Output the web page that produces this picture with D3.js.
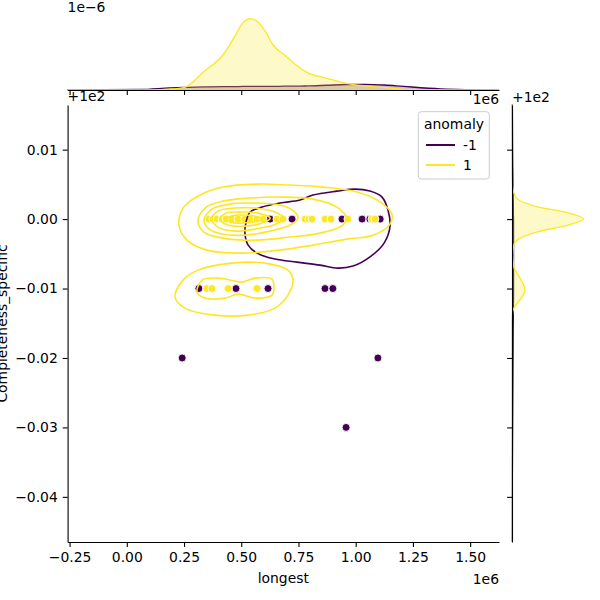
<!DOCTYPE html>
<html><head><meta charset="utf-8">
<script src="https://cdn.jsdelivr.net/npm/d3@7"></script>
<style>
body{margin:0;background:#fff;}
svg{display:block;font-family:"DejaVu Sans",sans-serif;}
</style></head>
<body><svg id="c" width="600" height="600"></svg>
<script>
// x: "longest" in units of 1e6 ; y: "Completeness_specific" as offset from 1e2
const xTicks = [-0.25, 0, 0.25, 0.5, 0.75, 1.0, 1.25, 1.5];
const yTicks = [0.01, 0, -0.01, -0.02, -0.03, -0.04];
const hueLevels = ["-1", "1"];
const hueColors = ["#440154", "#fde725"];

// scatter points
const ptX = [0.626,0.722,0.940,1.028,1.062,1.107, 0.315,0.477,0.617,0.866,0.900, 0.242,1.097, 0.958,
             0.359,0.377,0.394,0.416,0.434,0.460,0.486,0.516,0.538,0.569,0.595,0.656,0.682,0.779,0.796,0.809,0.866,0.892,0.966,1.071,1.084,
             0.350,0.372,0.443,0.569];
const ptY = [0,0,0,0,0,0, -0.01,-0.01,-0.01,-0.01,-0.01, -0.02,-0.02, -0.03,
             0,0,0,0,0,0,0,0,0,0,0,0,0,0,0,0,0,0,0,0,0,
             -0.01,-0.01,-0.01,-0.01];
const ptHue = [0,0,0,0,0,0, 0,0,0,0,0, 0,0, 0,
               1,1,1,1,1,1,1,1,1,1,1,1,1,1,1,1,1,1,1,1,1,
               1,1,1,1];

// KDE contours
const contourPurple = [[0.521,-0.00043],[0.538,0.00101],[0.591,0.00173],[0.669,0.00231],[0.757,0.00274],[0.813,0.00346],[0.918,0.00403],[0.997,0.00432],[1.062,0.00403],[1.115,0.00317],[1.141,0.00130],[1.150,-0.00101],[1.124,-0.00346],[1.067,-0.00533],[0.988,-0.00677],[0.923,-0.00706],[0.844,-0.00663],[0.743,-0.00620],[0.647,-0.00576],[0.569,-0.00490],[0.530,-0.00375],[0.516,-0.00202]];
const contourY1 = [[0.228,-0.00086],[0.246,0.00159],[0.320,0.00346],[0.420,0.00461],[0.569,0.00504],[0.713,0.00490],[0.857,0.00461],[1.006,0.00389],[1.107,0.00245],[1.158,0.00072],[1.150,-0.00072],[1.076,-0.00231],[0.962,-0.00288],[0.813,-0.00375],[0.669,-0.00447],[0.495,-0.00490],[0.350,-0.00447],[0.263,-0.00303]];
const contourY2 = [[0.311,-0.00029],[0.342,0.00159],[0.420,0.00259],[0.538,0.00303],[0.669,0.00317],[0.813,0.00288],[0.918,0.00173],[0.958,0.00029],[0.944,-0.00086],[0.844,-0.00202],[0.713,-0.00259],[0.569,-0.00303],[0.420,-0.00274],[0.337,-0.00187]];
const contourY3 = [[0.337,-0.00014],[0.372,0.00144],[0.451,0.00216],[0.560,0.00231],[0.669,0.00202],[0.730,0.00115],[0.748,0.00014],[0.713,-0.00086],[0.626,-0.00173],[0.516,-0.00231],[0.416,-0.00216],[0.355,-0.00130]];
const contourY4 = [[0.372,0],[0.398,0.00115],[0.473,0.00159],[0.560,0.00159],[0.647,0.00101],[0.687,0.00014],[0.652,-0.00072],[0.560,-0.00144],[0.473,-0.00173],[0.398,-0.00115]];
const contourY5 = [[0.407,0],[0.433,0.00086],[0.495,0.00101],[0.573,0.00086],[0.626,0.00014],[0.591,-0.00058],[0.516,-0.00101],[0.442,-0.00086]];
const contourY6 = [[0.438,0],[0.464,0.00050],[0.516,0.00058],[0.573,0.00029],[0.591,-0.00007],[0.547,-0.00043],[0.486,-0.00058],[0.451,-0.00043]];
const contourYLow1 = [[0.211,-0.01124],[0.246,-0.00879],[0.311,-0.00735],[0.460,-0.00634],[0.604,-0.00634],[0.704,-0.00735],[0.726,-0.00879],[0.704,-0.01095],[0.647,-0.01282],[0.530,-0.01383],[0.385,-0.01383],[0.254,-0.01282]];
const contourYLow2 = [[0.307,-0.01052],[0.329,-0.00879],[0.398,-0.00850],[0.473,-0.00893],[0.503,-0.00908],[0.560,-0.00850],[0.634,-0.00865],[0.643,-0.00980],[0.634,-0.01095],[0.560,-0.01138],[0.486,-0.01081],[0.429,-0.01138],[0.342,-0.01138]];

// marginal densities (x: units 1e-6)
const margXGrid   = [-0.26,0.06,0.19,0.253,0.336,0.420,0.471,0.505,0.538,0.572,0.606,0.639,0.689,0.740,0.789,0.874,0.958,1.042,1.126,1.210,1.37,1.626];
const margXYellow = [0,0,0.04,0.114,0.77,1.47,2.24,2.80,3.0,2.87,2.45,1.89,1.47,1.05,0.73,0.49,0.28,0.17,0.10,0.03,0,0];
const margXPurple = [0,0.02,0.09,0.11,0.13,0.14,0.14,0.15,0.15,0.15,0.15,0.15,0.16,0.16,0.17,0.20,0.23,0.24,0.21,0.15,0.05,0];
const margYGrid   = [0.0165,0.008,0.00465,0.00321,0.00177,0.00091,0,-0.00086,-0.00183,-0.00303,-0.00375,-0.0052,-0.00688,-0.00782,-0.00903,-0.01013,-0.0112,-0.01215,-0.01287,-0.0138,-0.016,-0.0465];
const margYYellow = [0,0,2,10,75,165,210,165,75,15,5,3,5,15,30,38,30,15,5,1,0,0];
const margYPurple = [1,2,3,3.5,4,4,4.5,4.5,4.5,4.5,4.5,4.5,4.5,4.5,4.5,4.5,4.5,4.3,4,4,3.5,0.5];

const svg = d3.select("#c");
const FS = "13.9px";
const L = 67.6, R = 499, T = 105, B = 542;
const x = d3.scaleLinear().domain([-0.2586, 1.626]).range([L, R]);
const y = d3.scaleLinear().domain([-0.0465, 0.01643]).range([B, T]);
const fmt = v => (v < 0 ? "\u2212" : "") + Math.abs(v).toFixed(2);

// ---- top marginal
const mxTop = 15, mxBot = 90;
const ym = d3.scaleLinear().domain([0, d3.max(margXYellow) * 1.05]).range([mxBot, mxTop]);
[[margXPurple,0],[margXYellow,1]].forEach(([vals,h]) => {
  const pts = margXGrid.map((g,i)=>[g, vals[i]]);
  svg.append("path").attr("d", d3.area().x(d=>x(d[0])).y0(ym(0)).y1(d=>ym(d[1])).curve(d3.curveMonotoneX)(pts))
    .attr("fill", hueColors[h]).attr("fill-opacity", 0.25);
  svg.append("path").attr("d", d3.line().x(d=>x(d[0])).y(d=>ym(d[1])).curve(d3.curveMonotoneX)(pts))
    .attr("fill","none").attr("stroke", hueColors[h]).attr("stroke-width", 1.3);
});
const axTop = svg.append("g").attr("transform", `translate(0,${mxBot})`)
  .call(d3.axisBottom(x).tickValues(xTicks).tickFormat("").tickSize(4.9).tickSizeOuter(0));

// ---- right marginal
const myL = 512, myR = 587;
const xm = d3.scaleLinear().domain([0, d3.max(margYYellow) * 1.05]).range([myL, myR]);
[[margYPurple,0],[margYYellow,1]].forEach(([vals,h]) => {
  const pts = margYGrid.map((g,i)=>[g, vals[i]]);
  svg.append("path").attr("d", d3.area().y(d=>y(d[0])).x0(xm(0)).x1(d=>xm(d[1])).curve(d3.curveMonotoneY)(pts))
    .attr("fill", hueColors[h]).attr("fill-opacity", 0.25);
  svg.append("path").attr("d", d3.line().y(d=>y(d[0])).x(d=>xm(d[1])).curve(d3.curveMonotoneY)(pts))
    .attr("fill","none").attr("stroke", hueColors[h]).attr("stroke-width", 1.3);
});
const axRight = svg.append("g").attr("transform", `translate(${myL},0)`)
  .call(d3.axisLeft(y).tickValues(yTicks).tickFormat("").tickSize(4.9).tickSizeOuter(0));

// ---- main: scatter
const idx = d3.range(ptX.length).sort((a,b)=>ptHue[a]-ptHue[b]);
svg.append("g").selectAll("circle").data(idx).join("circle")
  .attr("cx", i=>x(ptX[i])).attr("cy", i=>y(ptY[i])).attr("r", 4)
  .attr("fill", i=>hueColors[ptHue[i]]).attr("stroke","#fff").attr("stroke-width",0.9);

// ---- main: contours
const cl = d3.line().x(d=>x(d[0])).y(d=>y(d[1])).curve(d3.curveCatmullRomClosed.alpha(0.5));
const contours = [[contourPurple,0],[contourY1,1],[contourY2,1],[contourY3,1],[contourY4,1],[contourY5,1],[contourY6,1],[contourYLow1,1],[contourYLow2,1]];
svg.append("g").selectAll("path").data(contours).join("path")
  .attr("d", d=>cl(d[0])).attr("fill","none").attr("stroke", d=>hueColors[d[1]]).attr("stroke-width",1.6);

// axes main
const axX = svg.append("g").attr("transform", `translate(0,${B})`)
  .call(d3.axisBottom(x).tickValues(xTicks).tickFormat(fmt).tickSize(4.9).tickPadding(4.9).tickSizeOuter(0));
const axY = svg.append("g").attr("transform", `translate(${L},0)`)
  .call(d3.axisLeft(y).tickValues(yTicks).tickFormat(fmt).tickSize(4.9).tickPadding(4.9).tickSizeOuter(0));
[axTop, axRight, axX, axY].forEach(a => {
  a.selectAll("path.domain").attr("stroke","#000").attr("stroke-width",1.1);
  a.selectAll(".tick line").attr("stroke","#000").attr("stroke-width",1.1);
  a.selectAll("text").attr("font-size",FS).attr("font-family","DejaVu Sans").attr("fill","#000");
});
axX.selectAll(".tick text").attr("dy","0.72em");

// labels
const txt = (s, px, py, anchor, extra) => {
  const t = svg.append("text").attr("x",px).attr("y",py).attr("font-size",FS).attr("text-anchor",anchor||"start").attr("fill","#000").text(s);
  return t;
};
txt("longest", (L+R)/2, 583, "middle");
svg.append("text").attr("transform", `translate(6.5,${(T+B)/2}) rotate(-90)`).attr("font-size",FS)
  .attr("text-anchor","middle").attr("fill","#000").text("Completeness_specific");
txt("1e6", R, 583.5, "end");
txt("+1e2", L, 100.5, "start");
txt("1e\u22126", L, 11.5, "start");
txt("1e6", R, 103.5, "end");
txt("+1e2", myL, 101.5, "start");

// legend
const lg = svg.append("g");
lg.append("rect").attr("x",418.3).attr("y",111.7).attr("width",71).attr("height",67.3).attr("rx",3)
  .attr("fill","#fff").attr("fill-opacity",0.8).attr("stroke","#cccccc").attr("stroke-width",1);
lg.append("text").attr("x",454).attr("y",129).attr("text-anchor","middle").attr("font-size",FS).text("anomaly");
hueLevels.forEach((lab,i) => {
  const yy = 145 + i*20;
  lg.append("line").attr("x1",426).attr("x2",455).attr("y1",yy).attr("y2",yy).attr("stroke",hueColors[i]).attr("stroke-width",2);
  lg.append("text").attr("x",463).attr("y",yy+5).attr("font-size",FS).text(lab);
});
</script></body></html>
